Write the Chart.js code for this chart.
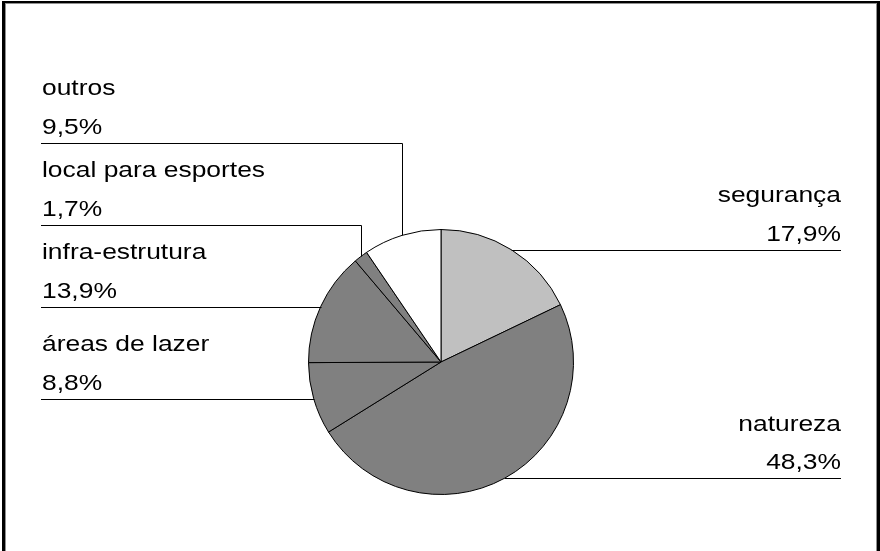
<!DOCTYPE html>
<html><head><meta charset="utf-8">
<script src="https://cdn.jsdelivr.net/npm/chart.js@4/dist/chart.umd.min.js"></script>
<style>html,body{margin:0;padding:0;background:#fff;overflow:hidden}#wrap{position:relative;width:880px;height:551px}</style>
</head><body><div id="wrap"><canvas id="c" width="880" height="551"></canvas></div>
<script>
const categories = ['segurança', 'natureza', 'áreas de lazer', 'infra-estrutura', 'local para esportes', 'outros'];
const values = [17.9, 48.3, 8.8, 13.9, 1.7, 9.5];
const sliceColors = ['#c0c0c0', '#808080', '#808080', '#808080', '#808080', '#ffffff'];

const FONT = '22px "Liberation Sans", Arial, sans-serif';
const SX = 1.2;
const fmt = v => v.toFixed(1).replace('.', ',') + '%';

function drawText(ctx, t, x, y, align) {
  ctx.save();
  ctx.translate(x, y);
  ctx.scale(SX, 1);
  ctx.textAlign = align;
  ctx.textBaseline = 'alphabetic';
  ctx.fillText(t, 0, 0);
  ctx.restore();
}

const leaders = {
  id: 'leaders',
  afterDraw(chart) {
    const ctx = chart.ctx;
    const meta = chart.getDatasetMeta(0);
    const left = [], right = [];
    meta.data.forEach((arc, i) => {
      const p = arc.getProps(['x', 'y', 'startAngle', 'endAngle', 'outerRadius'], true);
      const mid = (p.startAngle + p.endAngle) / 2;
      const mx = p.x + Math.cos(mid) * p.outerRadius;
      const my = p.y + Math.sin(mid) * p.outerRadius;
      (mx >= p.x ? right : left).push({ i, mx, my });
    });
    left.sort((a, b) => b.my - a.my);
    let prev = Infinity;
    left.forEach(o => { o.ly = Math.min(o.my, prev - 82); prev = o.ly; });
    right.forEach(o => { o.ly = o.my; });

    ctx.save();
    ctx.strokeStyle = '#000';
    ctx.lineWidth = 1;
    ctx.fillStyle = '#000';
    ctx.font = FONT;
    left.forEach(o => {
      const y = Math.round(o.ly) + 0.5;
      ctx.beginPath();
      ctx.moveTo(41, y);
      ctx.lineTo(Math.round(o.mx) + 0.5, y);
      if (o.my - o.ly > 2) ctx.lineTo(Math.round(o.mx) + 0.5, o.my);
      ctx.stroke();
      drawText(ctx, categories[o.i], 42, o.ly - 47.5, 'left');
      drawText(ctx, fmt(values[o.i]), 42, o.ly - 9, 'left');
    });
    right.forEach(o => {
      const y = Math.round(o.ly) + 0.5;
      ctx.beginPath();
      ctx.moveTo(o.mx, y);
      ctx.lineTo(841, y);
      ctx.stroke();
      drawText(ctx, categories[o.i], 841, o.ly - 47.5, 'right');
      drawText(ctx, fmt(values[o.i]), 841, o.ly - 9, 'right');
    });
    // frame
    ctx.fillStyle = '#000';
    ctx.fillRect(2, 1, 3, 551);
    ctx.fillRect(2, 1, 878, 2);
    ctx.fillRect(877, 1, 3, 551);
    ctx.fillStyle = '#909090';
    ctx.fillRect(5, 3, 1, 548);
    ctx.fillRect(5, 3, 871, 1);
    ctx.fillRect(876, 3, 1, 548);
    ctx.restore();
  }
};

new Chart(document.getElementById('c'), {
  type: 'pie',
  data: {
    labels: categories,
    datasets: [{
      data: values,
      backgroundColor: sliceColors,
      borderColor: '#000',
      borderWidth: 1
    }]
  },
  options: {
    responsive: false,
    animation: false,
    layout: { padding: { left: 308, right: 306, top: 229, bottom: 56 } },
    plugins: { legend: { display: false }, tooltip: { enabled: false } }
  },
  plugins: [leaders]
});
</script>
</body></html>
